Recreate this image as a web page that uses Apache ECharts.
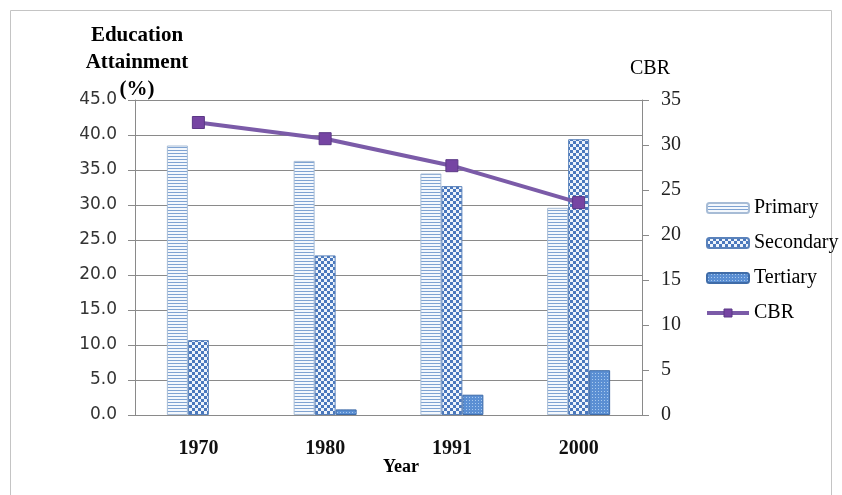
<!DOCTYPE html>
<html>
<head>
<meta charset="utf-8">
<script src="https://cdn.jsdelivr.net/npm/echarts@6/dist/echarts.min.js"></script>
<style>
  html, body { margin: 0; padding: 0; background: #fff; }
  #chart { width: 842px; height: 495px; }
</style>
</head>
<body>
<div id="chart"></div>
<script>
// Education attainment by level (%) and crude birth rate, by census year
const years = ['1970', '1980', '1991', '2000'];
const primary = [38.5, 36.3, 34.5, 29.6];
const secondary = [10.7, 22.8, 32.7, 39.4];
const tertiary = [0, 0.8, 2.9, 6.4];
const cbr = [32.5, 30.7, 27.7, 23.6];
const leftTicks = { min: 0, max: 45, interval: 5 };
const rightTicks = { min: 0, max: 35, interval: 5 };

// Fill patterns for the bars
function makePattern(w, h, draw) {
  const c = document.createElement('canvas');
  c.width = w; c.height = h;
  const ctx = c.getContext('2d');
  draw(ctx);
  return { image: c, repeat: 'repeat' };
}
const stripes = makePattern(4, 3, ctx => {
  ctx.fillStyle = '#f4f8fd'; ctx.fillRect(0, 0, 4, 3);
  ctx.fillStyle = '#7fa3d2'; ctx.fillRect(0, 0, 4, 1);
});
const checks = makePattern(6, 6, ctx => {
  ctx.fillStyle = '#eef4fb'; ctx.fillRect(0, 0, 6, 6);
  ctx.fillStyle = '#4a78bd';
  ctx.fillRect(0, 0, 3, 3); ctx.fillRect(3, 3, 3, 3);
});
const dots = makePattern(3, 3, ctx => {
  ctx.fillStyle = '#5b8fd3'; ctx.fillRect(0, 0, 3, 3);
  ctx.fillStyle = '#a8c9ee'; ctx.fillRect(1, 1, 1, 1);
});

// Zero shares are left empty rather than drawn as a flat bar
const noZero = arr => arr.map(v => (v === 0 ? '-' : v));

const serif = '"Liberation Serif", "DejaVu Serif", serif';
const cbrLine = { color: '#7b5ba8', width: 4 };
const cbrMarker = { color: '#7645a3', borderColor: '#5b3886', borderWidth: 1 };
const chart = echarts.init(document.getElementById('chart'), null, { renderer: 'canvas' });

chart.setOption({
  animation: false,
  backgroundColor: '#ffffff',
  grid: { left: 135, right: 200, top: 100, bottom: 80, containLabel: false },
  legend: {
    orient: 'vertical',
    left: 700,
    top: 193,
    itemWidth: 42,
    itemHeight: 10,
    itemGap: 15,
    textStyle: { fontFamily: serif, fontSize: 20, color: '#000' },
    data: [
      'Primary', 'Secondary', 'Tertiary',
      { name: 'CBR', lineStyle: cbrLine, itemStyle: cbrMarker }
    ]
  },
  xAxis: {
    type: 'category',
    data: years,
    axisLine: { lineStyle: { color: '#8a8a8a', width: 1 } },
    axisTick: { show: false },
    axisLabel: { margin: 24, fontFamily: serif, fontSize: 20, fontWeight: 'bold', color: '#111' }
  },
  yAxis: [
    {
      type: 'value',
      min: leftTicks.min, max: leftTicks.max, interval: leftTicks.interval,
      axisLine: { show: true, lineStyle: { color: '#8a8a8a' } },
      axisTick: { show: true, length: 7, lineStyle: { color: '#8a8a8a' } },
      splitLine: { lineStyle: { color: '#8a8a8a', width: 1 } },
      axisLabel: {
        margin: 18, fontFamily: '"DejaVu Sans", sans-serif', fontSize: 17, color: '#333',
        formatter: v => v.toFixed(1)
      }
    },
    {
      type: 'value',
      position: 'right',
      min: rightTicks.min, max: rightTicks.max, interval: rightTicks.interval,
      axisLine: { show: true, lineStyle: { color: '#8a8a8a' } },
      axisTick: { show: true, length: 7, lineStyle: { color: '#8a8a8a' } },
      splitLine: { show: false },
      axisLabel: { margin: 19, fontFamily: serif, fontSize: 20, color: '#222' }
    }
  ],
  series: [
    {
      name: 'Primary', type: 'bar', data: noZero(primary), barWidth: 21, barGap: '0%',
      itemStyle: { color: stripes, borderColor: '#a7bcd6', borderWidth: 1 }
    },
    {
      name: 'Secondary', type: 'bar', data: noZero(secondary), barWidth: 21, barGap: '0%',
      itemStyle: { color: checks, borderColor: '#5a82bb', borderWidth: 1 }
    },
    {
      name: 'Tertiary', type: 'bar', data: noZero(tertiary), barWidth: 21, barGap: '0%',
      itemStyle: { color: dots, borderColor: '#3f6ca8', borderWidth: 1 }
    },
    {
      name: 'CBR', type: 'line', yAxisIndex: 1, data: cbr,
      symbol: 'rect', symbolSize: 12,
      lineStyle: cbrLine,
      itemStyle: cbrMarker,
      z: 5
    }
  ],
  graphic: [
    {
      type: 'rect', silent: true,
      shape: { x: 10.5, y: 10.5, width: 821, height: 500 },
      style: { fill: 'none', stroke: '#c4c4c4', lineWidth: 1 }
    },
    {
      type: 'text', silent: true,
      x: 137, y: 22,
      style: {
        text: 'Education\nAttainment\n(%)', align: 'center', verticalAlign: 'top',
        font: 'bold 21px ' + serif, lineHeight: 27, fill: '#000'
      }
    },
    {
      type: 'text', silent: true, x: 650, y: 69,
      style: { text: 'CBR', align: 'center', verticalAlign: 'middle', font: '20px ' + serif, fill: '#000' }
    },
    {
      type: 'text', silent: true, x: 401, y: 467,
      style: { text: 'Year', align: 'center', verticalAlign: 'middle', font: 'bold 18px ' + serif, fill: '#000' }
    }
  ]
});
</script>
</body>
</html>
